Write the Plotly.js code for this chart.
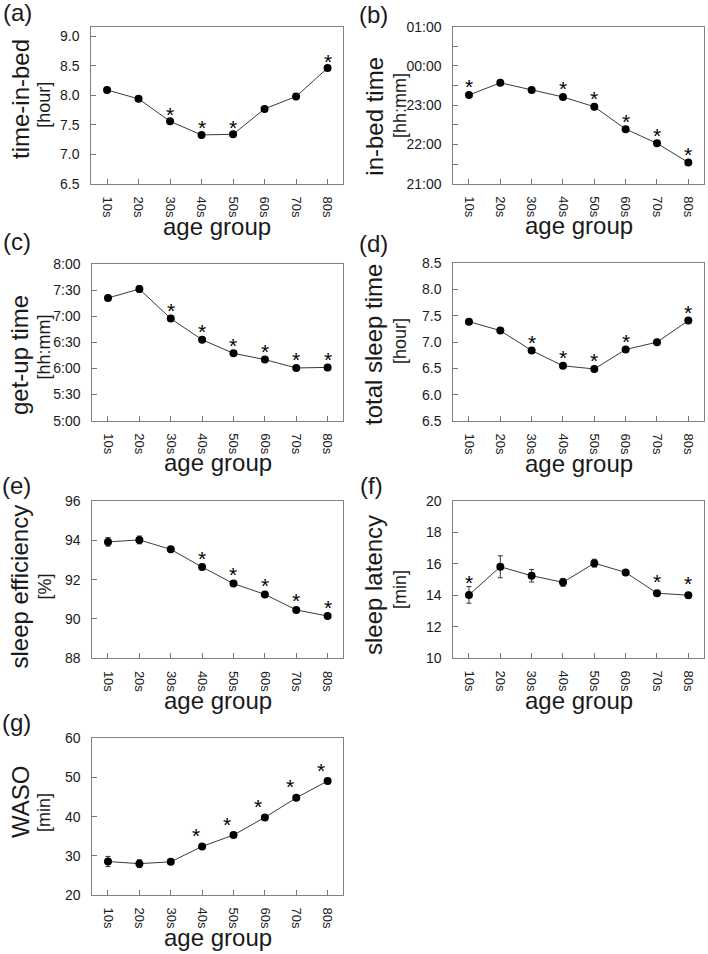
<!DOCTYPE html>
<html>
<head>
<meta charset="utf-8">
<script src="https://cdn.plot.ly/plotly-3.0.1.min.js"></script>
<style>html,body{margin:0;padding:0;background:#fff;}#chart{width:708px;height:954px;}</style>
</head>
<body>
<div id="chart"></div>
<script>
// ---------- data ----------
const ageGroups = ['10s','20s','30s','40s','50s','60s','70s','80s'];

const timeInBed    = [8.09, 7.94, 7.56, 7.33, 7.34, 7.77, 7.98, 8.46];
const timeInBedErr = [0.04, 0.04, 0.03, 0.03, 0.03, 0.02, 0.02, 0.03];
const timeInBedSig = [0, 0, 1, 1, 1, 0, 0, 1];

const inBedTime    = [23.26, 23.57, 23.39, 23.21, 22.96, 22.39, 22.03, 21.54];
const inBedTimeErr = [0.04, 0.04, 0.03, 0.03, 0.03, 0.03, 0.03, 0.03];
const inBedTimeSig = [1, 0, 0, 1, 1, 1, 1, 1];

const getUpTime    = [7.35, 7.52, 6.955, 6.55, 6.29, 6.17, 6.01, 6.02];
const getUpTimeErr = [0.03, 0.06, 0.03, 0.02, 0.02, 0.02, 0.02, 0.02];
const getUpTimeSig = [0, 0, 1, 1, 1, 1, 1, 1];

const totalSleep    = [7.39, 7.22, 6.84, 6.55, 6.49, 6.86, 7.00, 7.41];
const totalSleepErr = [0.03, 0.03, 0.02, 0.02, 0.02, 0.02, 0.02, 0.02];
const totalSleepSig = [0, 0, 1, 1, 1, 1, 0, 1];

const sleepEff    = [93.92, 94.02, 93.54, 92.64, 91.80, 91.25, 90.46, 90.15];
const sleepEffErr = [0.22, 0.20, 0.12, 0.07, 0.05, 0.05, 0.05, 0.05];
const sleepEffSig = [0, 0, 0, 1, 1, 1, 1, 1];

const sleepLat    = [14.02, 15.81, 15.24, 14.82, 16.04, 15.45, 14.13, 14.00];
const sleepLatErr = [0.53, 0.70, 0.40, 0.25, 0.25, 0.12, 0.08, 0.15];
const sleepLatSig = [1, 0, 0, 0, 0, 0, 1, 1];

const waso    = [28.55, 28.0, 28.47, 32.4, 35.3, 39.8, 44.8, 49.1];
const wasoErr = [1.3, 1.0, 0.6, 0.5, 0.5, 0.5, 0.4, 0.5];
const wasoSig = [0, 0, 0, 1, 1, 1, 1, 1];

// tick labels
const tibTickVals  = [6.5, 7.0, 7.5, 8.0, 8.5, 9.0];
const tibTickText  = ['6.5', '7.0', '7.5', '8.0', '8.5', '9.0'];
const bedTickVals  = [21, 21.5, 22, 22.5, 23, 23.5, 24, 24.5, 25];
const bedTickText  = ['21:00', '', '22:00', '', '23:00', '', '00:00', '', '01:00'];
const upTickVals   = [5, 5.5, 6, 6.5, 7, 7.5, 8];
const upTickText   = ['5:00', '5:30', '6:00', '6:30', '7:00', '7:30', '8:00'];
const tstTickVals  = [5.5, 6.0, 6.5, 7.0, 7.5, 8.0, 8.5];
const tstTickText  = ['6.5', '6.0', '6.5', '7.0', '7.5', '8.0', '8.5'];
const seTickVals   = [88, 90, 92, 94, 96];
const seTickText   = ['88', '90', '92', '94', '96'];
const slTickVals   = [10, 12, 14, 16, 18, 20];
const slTickText   = ['10', '12', '14', '16', '18', '20'];
const wasoTickVals = [20, 30, 40, 50, 60];
const wasoTickText = ['20', '30', '40', '50', '60'];

const panelLabels = ['(a)', '(b)', '(c)', '(d)', '(e)', '(f)', '(g)'];
const yTitles = ['time-in-bed', 'in-bed time', 'get-up time', 'total sleep time', 'sleep efficiency', 'sleep latency', 'WASO'];
const yUnits  = ['[hour]', '[hh:mm]', '[hh:mm]', '[hour]', '[%]', '[min]', '[min]'];
const xTitle  = 'age group';

// ---------- layout / styling ----------
const W = 708, H = 954;
const px = v => v / W;
const py = v => 1 - v / H;
const FONT = 'Liberation Sans, Arial, Helvetica, sans-serif';

const panels = [
  {vals: timeInBed, err: timeInBedErr, sig: timeInBedSig, range: [6.5, 9.16], tv: tibTickVals, tt: tibTickText,
   box: [91.3, 343.3, 26.7, 184], title: [21, 99], unit: [44, 104.7], label: [17, 13], starY: 11, starX: 0},
  {vals: inBedTime, err: inBedTimeErr, sig: inBedTimeSig, range: [21, 25], tv: bedTickVals, tt: bedTickText,
   box: [453.3, 704, 26.7, 183.7], title: [375, 116.7], unit: [400, 106], label: [373, 14], starY: 12, starX: 0},
  {vals: getUpTime, err: getUpTimeErr, sig: getUpTimeSig, range: [5, 8], tv: upTickVals, tt: upTickText,
   box: [92.3, 343.3, 264, 420.7], title: [19, 355], unit: [43.5, 347], label: [17, 241], starY: 12, starX: 0},
  {vals: totalSleep, err: totalSleepErr, sig: totalSleepSig, range: [5.5, 8.5], tv: tstTickVals, tt: tstTickText,
   box: [453.3, 704, 263.3, 421], title: [373, 345], unit: [400, 341], label: [373, 243], starY: 12, starX: 0},
  {vals: sleepEff, err: sleepEffErr, sig: sleepEffSig, range: [88, 96], tv: seTickVals, tt: seTickText,
   box: [92.3, 343.3, 501, 658.3], title: [19, 586.5], unit: [44.5, 587], label: [16, 485.5], starY: 13, starX: 0},
  {vals: sleepLat, err: sleepLatErr, sig: sleepLatSig, range: [10, 20], tv: slTickVals, tt: slTickText,
   box: [453.3, 704, 501, 658], title: [373, 585], unit: [400, 590], label: [371, 485.5], starY: 16, starX: 0},
  {vals: waso, err: wasoErr, sig: wasoSig, range: [20, 60], tv: wasoTickVals, tt: wasoTickText,
   box: [92.3, 343.3, 738.3, 895], title: [20, 802], unit: [44, 813], label: [16, 722], starY: 15, starX: -6.5}
];

const data = [];
const layout = {
  width: W, height: H,
  margin: {l: 0, r: 0, t: 0, b: 0, pad: 0},
  paper_bgcolor: '#ffffff', plot_bgcolor: '#ffffff',
  showlegend: false,
  font: {family: FONT, color: '#1a1a1a'},
  annotations: []
};

panels.forEach((p, i) => {
  const n = i + 1;
  const xa = n === 1 ? 'x' : 'x' + n;
  const ya = n === 1 ? 'y' : 'y' + n;
  data.push({
    type: 'scatter', mode: 'lines+markers',
    x: ageGroups, y: p.vals,
    xaxis: xa, yaxis: ya,
    line: {color: '#3a3a3a', width: 1},
    marker: {color: '#000000', size: 8},
    error_y: {type: 'data', array: p.err, visible: true, color: '#333333', thickness: 1, width: 2.5},
    hoverinfo: 'skip'
  });
  const [l, r, t, b] = p.box;
  layout['xaxis' + (n === 1 ? '' : n)] = {
    domain: [px(l), px(r)], anchor: ya,
    type: 'category', range: [-0.5, 7.5],
    tickvals: ageGroups, ticktext: ageGroups,
    ticks: 'inside', ticklen: 5, tickwidth: 1, tickcolor: '#777777',
    tickangle: 90, ticklabelstandoff: 9,
    tickfont: {family: FONT, size: 13, color: '#1a1a1a'},
    showline: true, linecolor: '#808080', linewidth: 1, mirror: true,
    showgrid: false, zeroline: false, fixedrange: true
  };
  layout['yaxis' + (n === 1 ? '' : n)] = {
    domain: [py(b), py(t)], anchor: xa,
    range: p.range,
    tickmode: 'array', tickvals: p.tv, ticktext: p.tt,
    ticks: 'inside', ticklen: 5, tickwidth: 1, tickcolor: '#777777',
    ticklabelstandoff: 8,
    tickfont: {family: FONT, size: 14, color: '#1a1a1a'},
    showline: true, linecolor: '#808080', linewidth: 1, mirror: true,
    showgrid: false, zeroline: false, fixedrange: true
  };
  // stars for significant points
  p.sig.forEach((s, j) => {
    if (!s) return;
    layout.annotations.push({
      xref: xa, yref: ya, x: ageGroups[j], y: p.vals[j],
      text: '*', showarrow: false, xanchor: 'center', yanchor: 'middle',
      xshift: p.starX, yshift: p.starY - 4,
      font: {family: FONT, size: 21, color: '#000000'}
    });
  });
  // panel label
  layout.annotations.push({
    xref: 'paper', yref: 'paper', x: px(p.label[0]), y: py(p.label[1]),
    text: panelLabels[i], showarrow: false, xanchor: 'center', yanchor: 'middle',
    font: {family: FONT, size: 24, color: '#1a1a1a'}
  });
  // y title main line
  layout.annotations.push({
    xref: 'paper', yref: 'paper', x: px(p.title[0]), y: py(p.title[1]),
    text: yTitles[i], showarrow: false, textangle: -90, xanchor: 'center', yanchor: 'middle',
    font: {family: FONT, size: 24, color: '#1a1a1a'}
  });
  // y title unit line
  layout.annotations.push({
    xref: 'paper', yref: 'paper', x: px(p.unit[0]), y: py(p.unit[1]),
    text: yUnits[i], showarrow: false, textangle: -90, xanchor: 'center', yanchor: 'middle',
    font: {family: FONT, size: 18, color: '#1a1a1a'}
  });
  // x title
  layout.annotations.push({
    xref: 'paper', yref: 'paper', x: px((l + r) / 2), y: py(b + 42),
    text: xTitle, showarrow: false, xanchor: 'center', yanchor: 'middle',
    font: {family: FONT, size: 24, color: '#1a1a1a'}
  });
});

Plotly.newPlot('chart', data, layout, {displayModeBar: false, staticPlot: true});
</script>
</body>
</html>
